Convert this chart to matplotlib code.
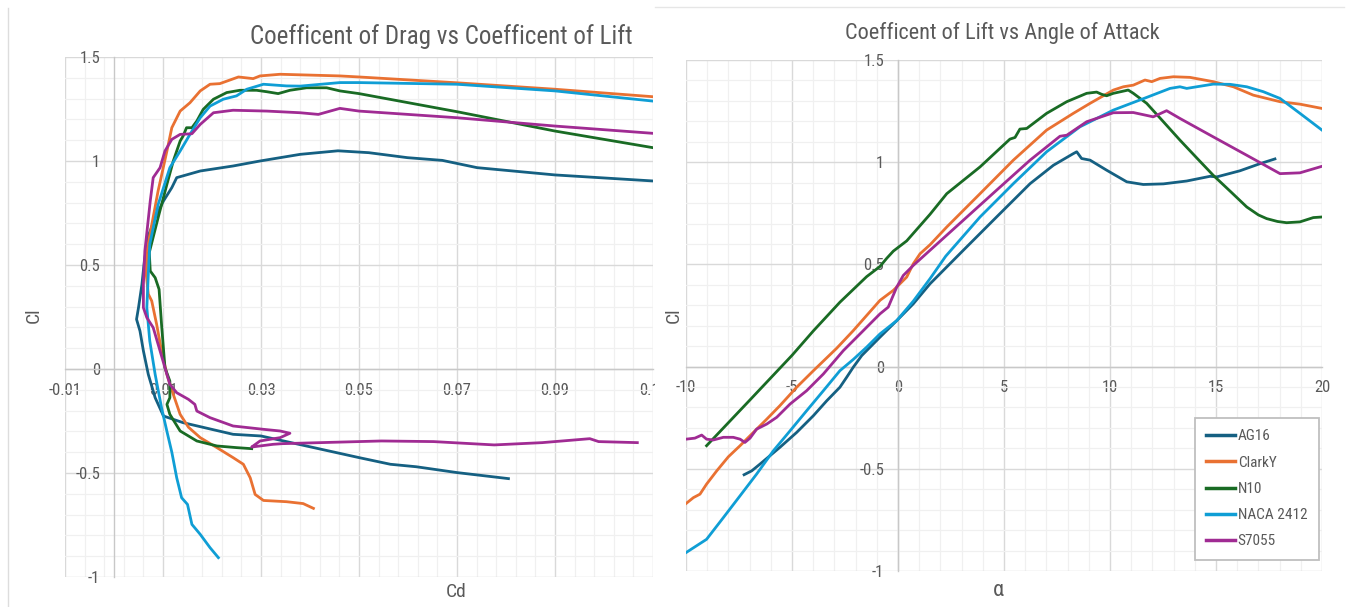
import matplotlib.pyplot as plt
from matplotlib.ticker import MultipleLocator, FixedLocator
from matplotlib.transforms import Bbox, TransformedBbox
from matplotlib.lines import Line2D

plt.rcParams['font.family'] = ['Liberation Sans Narrow', 'Roboto Condensed', 'DejaVu Sans']
plt.rcParams['axes.unicode_minus'] = False

names = ['AG16', 'ClarkY', 'N10', 'NACA 2412', 'S7055']
colors = ['#156082', '#E97132', '#196B24', '#0F9ED5', '#A02B93']

# drag polars (Cd, Cl)
ag16_cd = [0.0805, 0.0700, 0.0617, 0.0564, 0.0500, 0.0300, 0.0243, 0.0141, 0.0101, 0.0084,
           0.0070, 0.0060, 0.0053, 0.0046, 0.0050, 0.0057, 0.0062, 0.0070, 0.0084, 0.0101,
           0.0118, 0.0128, 0.0176, 0.0243, 0.0298, 0.0380, 0.0457, 0.0520, 0.0599, 0.0670,
           0.0741, 0.0900, 0.1100]
ag16_cl_p = [-0.527, -0.498, -0.470, -0.458, -0.426, -0.322, -0.314, -0.258, -0.226, -0.138,
             -0.026, 0.087, 0.183, 0.239, 0.295, 0.407, 0.520, 0.640, 0.727, 0.808,
             0.872, 0.920, 0.952, 0.976, 1.000, 1.032, 1.049, 1.040, 1.016, 1.003,
             0.968, 0.933, 0.904]

clarky_cd = [0.0407, 0.0386, 0.0352, 0.0305, 0.0288, 0.0278, 0.0264, 0.0243, 0.0210, 0.0176,
             0.0152, 0.0135, 0.0121, 0.0108, 0.0097, 0.0087, 0.0077, 0.0070, 0.0066, 0.0067,
             0.0090, 0.0108, 0.0118, 0.0135, 0.0155, 0.0176, 0.0196, 0.0216, 0.0254, 0.0284,
             0.0298, 0.0339, 0.0461, 0.0500, 0.0700, 0.0900, 0.1100]
clarky_cl_p = [-0.670, -0.647, -0.638, -0.632, -0.603, -0.523, -0.458, -0.426, -0.378, -0.330,
               -0.280, -0.218, -0.122, -0.026, 0.087, 0.215, 0.327, 0.360, 0.450, 0.567,
               0.856, 1.048, 1.160, 1.240, 1.280, 1.337, 1.369, 1.372, 1.404, 1.396,
               1.409, 1.417, 1.409, 1.404, 1.376, 1.345, 1.309]

n10_cd = [0.0281, 0.0250, 0.0210, 0.0169, 0.0135, 0.0114, 0.0108, 0.0114, 0.0114, 0.0104,
          0.0097, 0.0092, 0.0084, 0.0074, 0.0072, 0.0090, 0.0108, 0.0121, 0.0135, 0.0141,
          0.0148, 0.0159, 0.0169, 0.0182, 0.0203, 0.0230, 0.0257, 0.0291, 0.0312, 0.0335,
          0.0359, 0.0393, 0.0434, 0.0461, 0.0500, 0.0700, 0.0900, 0.1100]
n10_cl_p = [-0.383, -0.378, -0.370, -0.346, -0.298, -0.218, -0.170, -0.138, -0.058, 0.006,
            0.215, 0.383, 0.439, 0.471, 0.560, 0.727, 0.888, 1.000, 1.096, 1.120,
            1.160, 1.160, 1.192, 1.248, 1.297, 1.329, 1.340, 1.340, 1.333, 1.324,
            1.340, 1.352, 1.352, 1.337, 1.324, 1.237, 1.144, 1.064]

naca_cd = [0.0213, 0.0196, 0.0176, 0.0159, 0.0150, 0.0138, 0.0128, 0.0118, 0.0108, 0.0097,
           0.0084, 0.0073, 0.0067, 0.0070, 0.0073, 0.0090, 0.0114, 0.0135, 0.0155, 0.0176,
           0.0196, 0.0223, 0.0250, 0.0271, 0.0305, 0.0352, 0.0380, 0.0461, 0.0500, 0.0700,
           0.0900, 0.1100]
naca_cl_p = [-0.907, -0.859, -0.795, -0.747, -0.651, -0.619, -0.523, -0.400, -0.300, -0.186,
             -0.026, 0.135, 0.295, 0.455, 0.600, 0.790, 0.968, 1.048, 1.128, 1.208,
             1.264, 1.297, 1.313, 1.345, 1.369, 1.361, 1.360, 1.377, 1.377, 1.369,
             1.337, 1.288]

s7055_cd = [0.1068, 0.0989, 0.0971, 0.0874, 0.0776, 0.0652, 0.0546, 0.0343, 0.0325, 0.0281,
            0.0284, 0.0298, 0.0339, 0.0359, 0.0339, 0.0305, 0.0243, 0.0196, 0.0169, 0.0165,
            0.0152, 0.0128, 0.0114, 0.0104, 0.0094, 0.0080, 0.0067, 0.0060, 0.0060, 0.0063,
            0.0074, 0.0080, 0.0094, 0.0104, 0.0118, 0.0135, 0.0159, 0.0176, 0.0203, 0.0243,
            0.0312, 0.0380, 0.0417, 0.0461, 0.0500, 0.0700, 0.0900, 0.1100]
s7055_cl_p = [-0.354, -0.349, -0.335, -0.354, -0.365, -0.349, -0.346, -0.359, -0.362, -0.375,
              -0.370, -0.346, -0.330, -0.309, -0.298, -0.290, -0.274, -0.234, -0.202, -0.170,
              -0.146, -0.114, -0.074, 0.006, 0.087, 0.199, 0.247, 0.295, 0.407, 0.567,
              0.808, 0.920, 0.968, 1.048, 1.104, 1.128, 1.131, 1.176, 1.232, 1.244,
              1.240, 1.232, 1.224, 1.253, 1.240, 1.208, 1.168, 1.133]

# lift curves (alpha, Cl)
ag16_alpha = [-7.26, -6.90, -6.51, -6.04, -5.57, -4.78, -3.99, -3.36, -2.74, -2.42, -2.11,
              -1.71, -0.85, -0.06, 0.72, 1.51, 3.08, 4.65, 6.23, 7.33, 8.27, 8.43, 8.66,
              9.06, 9.84, 10.79, 11.57, 12.52, 13.62, 14.72, 15.03, 16.13, 17.08, 17.78]
ag16_cl = [-0.529, -0.510, -0.477, -0.436, -0.395, -0.322, -0.240, -0.167, -0.101, -0.052, -0.003,
           0.054, 0.144, 0.225, 0.307, 0.405, 0.569, 0.732, 0.895, 0.985, 1.042, 1.051, 1.018,
           1.010, 0.961, 0.904, 0.891, 0.894, 0.908, 0.931, 0.928, 0.958, 0.993, 1.016]

clarky_alpha = [-10.0, -9.65, -9.34, -9.03, -8.55, -8.0, -7.45, -6.90, -6.19, -5.57, -4.78,
                -3.99, -2.89, -2.11, -0.85, -0.22, 0.41, 0.72, 1.04, 1.51, 2.30, 3.87, 5.44,
                7.01, 8.27, 9.06, 10.16, 10.63, 11.10, 11.65, 11.97, 12.36, 12.99, 13.77,
                14.87, 15.82, 16.76, 18.02, 18.96, 20.0]
clarky_cl = [-0.670, -0.641, -0.624, -0.575, -0.510, -0.441, -0.387, -0.330, -0.257, -0.191, -0.101,
             -0.020, 0.090, 0.176, 0.324, 0.373, 0.438, 0.503, 0.552, 0.596, 0.683, 0.846, 1.010,
             1.157, 1.239, 1.288, 1.353, 1.369, 1.377, 1.402, 1.394, 1.410, 1.418, 1.415,
             1.394, 1.369, 1.328, 1.296, 1.284, 1.263]

n10_alpha = [-9.03, -7.0, -5.0, -3.99, -2.74, -1.48, -0.85, -0.53, -0.22, 0.41, 1.51, 2.30,
             3.87, 5.28, 5.52, 5.75, 6.07, 7.01, 7.96, 8.90, 9.37, 9.61, 9.84, 10.16, 10.86,
             11.10, 11.73, 12.5, 13.30, 14.1, 14.87, 15.7, 16.45, 17.0, 17.39, 17.9, 18.33,
             18.96, 19.59, 20.0]
n10_cl = [-0.387, -0.165, 0.055, 0.175, 0.315, 0.440, 0.490, 0.530, 0.565, 0.615, 0.745, 0.846,
          0.977, 1.113, 1.121, 1.162, 1.165, 1.239, 1.296, 1.337, 1.343, 1.332, 1.325, 1.337, 1.353,
          1.337, 1.288, 1.200, 1.108, 1.020, 0.936, 0.855, 0.781, 0.742, 0.724, 0.710, 0.704,
          0.708, 0.729, 0.732]

naca_alpha = [-10.0, -9.03, -8.24, -7.45, -6.67, -5.88, -5.09, -4.31, -3.52, -2.74, -2.11,
              -1.48, -0.85, -0.06, 0.72, 1.51, 2.25, 3.87, 5.44, 7.01, 8.58, 10.16, 11.73,
              12.83, 13.30, 13.62, 14.09, 14.87, 15.66, 16.45, 17.23, 18.02, 18.96, 20.0]
naca_cl = [-0.910, -0.845, -0.739, -0.632, -0.526, -0.412, -0.314, -0.216, -0.118, -0.020, 0.035,
           0.095, 0.160, 0.225, 0.320, 0.430, 0.540, 0.732, 0.895, 1.051, 1.173, 1.255, 1.317,
           1.361, 1.369, 1.361, 1.369, 1.382, 1.381, 1.369, 1.345, 1.312, 1.239, 1.157]

s7055_alpha = [-10.0, -9.58, -9.26, -9.03, -8.71, -8.24, -7.77, -7.45, -7.22, -6.98, -6.67,
               -6.19, -5.72, -5.09, -4.31, -3.52, -2.58, -1.79, -0.85, -0.46, -0.06, 0.25,
               0.72, 1.51, 3.08, 4.65, 6.23, 7.64, 7.96, 8.90, 10.16, 11.10, 12.04, 12.67,
               13.30, 14.87, 16.45, 18.02, 18.96, 20.0]
s7055_cl = [-0.355, -0.350, -0.335, -0.355, -0.359, -0.346, -0.346, -0.355, -0.371, -0.350, -0.306,
            -0.281, -0.248, -0.183, -0.118, -0.036, 0.078, 0.160, 0.258, 0.291, 0.389, 0.446,
            0.495, 0.569, 0.716, 0.863, 1.010, 1.127, 1.132, 1.198, 1.242, 1.243, 1.222, 1.252,
            1.214, 1.124, 1.034, 0.944, 0.948, 0.980]

polars = [(ag16_cd, ag16_cl_p), (clarky_cd, clarky_cl_p), (n10_cd, n10_cl_p),
          (naca_cd, naca_cl_p), (s7055_cd, s7055_cl_p)]
lifts = [(ag16_alpha, ag16_cl), (clarky_alpha, clarky_cl), (n10_alpha, n10_cl),
         (naca_alpha, naca_cl), (s7055_alpha, s7055_cl)]

cd_ticks = [-0.01, 0.01, 0.03, 0.05, 0.07, 0.09, 0.11]
alpha_ticks = [-10, -5, 0, 5, 10, 15, 20]
cl_ticks = [-1, -0.5, 0, 0.5, 1, 1.5]

TEXT = '#595959'
W, H = 1356, 607


def style_axes(ax, xticks, xminor, xoffset):
    """Excel-like look: axes crossing at zero, light major/minor grid."""
    ax.set_axisbelow(True)
    ax.xaxis.set_major_locator(FixedLocator(xticks))
    ax.xaxis.set_minor_locator(MultipleLocator(xminor, offset=xoffset))
    ax.yaxis.set_major_locator(FixedLocator(cl_ticks))
    ax.yaxis.set_minor_locator(MultipleLocator(0.1))
    ax.set_xticklabels(['%g' % t for t in xticks])
    ax.set_yticklabels(['%g' % t for t in cl_ticks])
    ax.grid(which='major', color='#D9D9D9', lw=1.0)
    ax.grid(which='minor', color='#F0F0F0', lw=0.9)
    for side in ['top', 'right']:
        ax.spines[side].set_visible(False)
    ax.spines['left'].set_position(('data', 0))
    ax.spines['bottom'].set_position(('data', 0))
    for side in ['left', 'bottom']:
        ax.spines[side].set_color('#C8C8C8')
        ax.spines[side].set_linewidth(1.0)
    ax.tick_params(which='both', length=0, pad=10, labelcolor=TEXT, labelsize=12)


fig = plt.figure(figsize=(W / 100, H / 100), dpi=100)

ax1 = fig.add_axes([65 / W, 1 - 577 / H, 588 / W, 520 / H])
for (x, y), c, n in zip(polars, colors, names):
    ax1.plot(x, y, color=c, lw=2.0, label=n, zorder=3, solid_joinstyle='round')
ax1.set_xlim(-0.01, 0.11)
ax1.set_ylim(-1, 1.5)
style_axes(ax1, cd_ticks, 0.004, 0.002)

ax2 = fig.add_axes([686 / W, 1 - 571 / H, 636 / W, 511 / H])
for (x, y), c, n in zip(lifts, colors, names):
    ax2.plot(x, y, color=c, lw=2.0, label=n, zorder=3, solid_joinstyle='round')
ax2.set_xlim(-10, 20)
ax2.set_ylim(-1, 1.5)
style_axes(ax2, alpha_ticks, 1, 0)

# the screenshot crops the last Cd label
fig.canvas.draw()
clip = TransformedBbox(Bbox([[0, 0], [655 / W, 1]]), fig.transFigure)
last = ax1.get_xticklabels()[-1]
last.set_clip_on(True)
last.set_clip_box(clip)

fig.text(441 / W, 1 - 37 / H, 'Coefficent of Drag vs Coefficent of Lift', ha='center', va='center',
         fontsize=18, color=TEXT)
fig.text(1002 / W, 1 - 33 / H, 'Coefficent of Lift vs Angle of Attack', ha='center', va='center',
         fontsize=16, color=TEXT)
fig.text(34 / W, 1 - 315 / H, 'Cl', rotation=90, ha='center', va='center', fontsize=14, color=TEXT)
fig.text(456 / W, 1 - 592 / H, 'Cd', ha='center', va='center', fontsize=14, color=TEXT)
fig.text(674 / W, 1 - 315 / H, 'Cl', rotation=90, ha='center', va='center', fontsize=14, color=TEXT)
fig.text(998 / W, 1 - 590 / H, 'α', ha='center', va='center', fontsize=16, color=TEXT)

leg = ax2.legend(loc='upper left', bbox_to_anchor=(1195 / W, 1 - 418 / H), bbox_transform=fig.transFigure,
                 fancybox=False, framealpha=1, edgecolor='#BFBFBF', fontsize=11, handlelength=1.9,
                 handletextpad=0.15, labelspacing=0.8, borderpad=0.75, borderaxespad=0)
leg.get_frame().set_linewidth(1.3)
for line in leg.get_lines():
    line.set_linewidth(2.5)
for t in leg.get_texts():
    t.set_color(TEXT)

# screenshot borders
fig.add_artist(Line2D([8 / W, 8 / W], [0, 1 - 8 / H], transform=fig.transFigure, color='#DDDDDD', lw=1))
fig.add_artist(Line2D([655 / W, 1344 / W], [1 - 7 / H, 1 - 7 / H], transform=fig.transFigure,
                      color='#E6E6E6', lw=1))

fig.savefig('out.png', dpi=100)
